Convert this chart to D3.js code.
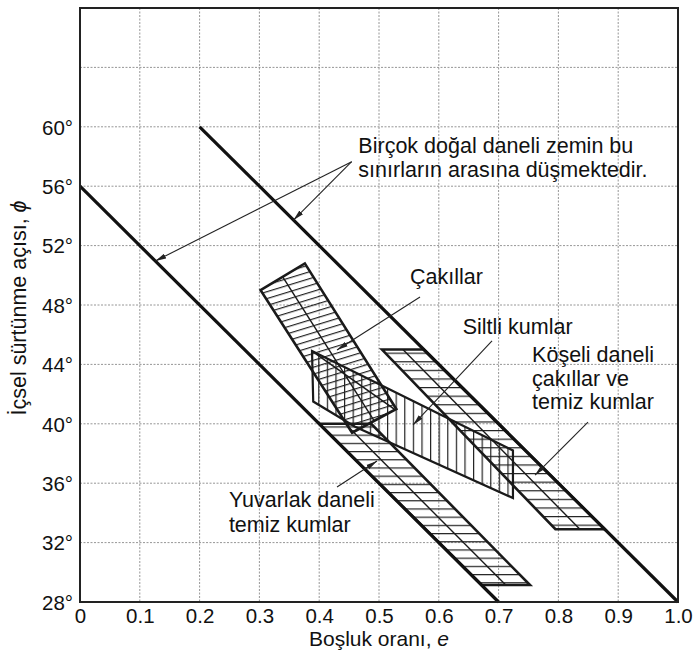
<!DOCTYPE html>
<html>
<head>
<meta charset="utf-8">
<script src="https://cdn.jsdelivr.net/npm/d3@7"></script>
<style>
  html, body { margin: 0; padding: 0; background: #fff; }
  svg { display: block; font-family: "Liberation Sans", Arial, Helvetica, sans-serif; }
</style>
</head>
<body>
<svg id="chart" width="695" height="658"></svg>
<script>
// ---- axis ticks and grid ----
const eTicks = [0, 0.1, 0.2, 0.3, 0.4, 0.5, 0.6, 0.7, 0.8, 0.9, 1.0];
const eTickLabels = ["0", "0.1", "0.2", "0.3", "0.4", "0.5", "0.6", "0.7", "0.8", "0.9", "1.0"];
const phiTicks = [28, 32, 36, 40, 44, 48, 52, 56, 60];
const phiTickLabels = ["28°", "32°", "36°", "40°", "44°", "48°", "52°", "56°", "60°"];
const eGrid = [0.1, 0.2, 0.3, 0.4, 0.5, 0.6, 0.7, 0.8, 0.9];
const phiGrid = [32, 36, 40, 44, 48, 52, 56, 60, 64];

// ---- limits of most natural granular soils, [e, phi] ----
const lowerLimit = [[0, 56], [0.7, 28]];
const upperLimit = [[0.2, 60], [1.0, 28]];

// ---- soil zones, [e, phi] ----
const roundedSands = [[0.400, 40.0], [0.487, 40.0], [0.7525, 29.14], [0.672, 29.14]];
const roundedSandsMid = [[0.4435, 40.0], [0.712, 29.14]];
const angularSands = [[0.505, 45.0], [0.575, 45.0], [0.8775, 32.9], [0.795, 32.9]];
const angularSandsMid = [[0.540, 45.0], [0.836, 32.9]];
const gravels = [[0.302, 49.0], [0.376, 50.8], [0.529, 41.0], [0.455, 39.4]];
const gravelsMid = [[0.339, 49.9], [0.492, 40.2]];
const siltySands = [[0.388, 44.9], [0.724, 38.2], [0.724, 35.0], [0.460, 39.8], [0.390, 41.5]];
const siltySandsInner = [[0.388, 44.9], [0.525, 41.0]];

// ---- callouts: text lines with anchor [e, phi] of each baseline ----
const noteLimits = ["Birçok doğal daneli zemin bu", "sınırların arasına düşmektedir."];
const noteLimitsAt = [[0.4655, 58.24], [0.4655, 56.62]];
const noteGravels = ["Çakıllar"];
const noteGravelsAt = [[0.552, 49.41]];
const noteSilty = ["Siltli kumlar"];
const noteSiltyAt = [[0.640, 46.05]];
const noteAngular = ["Köşeli daneli", "çakıllar ve", "temiz kumlar"];
const noteAngularAt = [[0.756, 44.16], [0.756, 42.55], [0.756, 41.00]];
const noteRounded = ["Yuvarlak daneli", "temiz kumlar"];
const noteRoundedAt = [[0.249, 34.40], [0.249, 32.71]];

// arrows: [from, to] in [e, phi]
const arrows = [
  [[0.4543, 57.65], [0.126, 50.96]],
  [[0.4543, 57.65], [0.357, 53.72]],
  [[0.5686, 48.54], [0.4298, 44.97]],
  [[0.689, 45.58], [0.557, 39.92]],
  [[0.8495, 40.12], [0.761, 36.55]],
  [[0.4298, 35.74], [0.4967, 37.49]]
];

// ---- layout ----
const plot = { left: 80, right: 678, top: 8, bottom: 602 };
const x = d3.scaleLinear().domain([0, 1.0]).range([plot.left, plot.right]);
const y = d3.scaleLinear().domain([28, 68]).range([plot.bottom, plot.top]);

const svg = d3.select("#chart");
const defs = svg.append("defs");

function hatch(id, w, h, x1, y1, x2, y2, rot) {
  const p = defs.append("pattern")
    .attr("id", id)
    .attr("patternUnits", "userSpaceOnUse")
    .attr("width", w).attr("height", h);
  if (rot) p.attr("patternTransform", `rotate(${rot})`);
  p.append("line")
    .attr("x1", x1).attr("y1", y1).attr("x2", x2).attr("y2", y2)
    .attr("stroke", "#222").attr("stroke-width", 1.2);
}
hatch("hRounded", 20, 8.2, 0, 0.6, 20, 0.6);
hatch("hAngular", 20, 8.6, 0, 0.6, 20, 0.6);
hatch("hGravel", 20, 6.6, 0, 0.6, 20, 0.6, -17);
hatch("vSilty", 8.6, 20, 0.6, 0, 0.6, 20);

defs.append("marker")
  .attr("id", "arrowHead")
  .attr("markerUnits", "userSpaceOnUse")
  .attr("viewBox", "0 -3 11 6")
  .attr("refX", 11).attr("refY", 0)
  .attr("markerWidth", 11).attr("markerHeight", 6)
  .attr("orient", "auto")
  .append("path")
  .attr("d", "M0,-2.6L11,0L0,2.6Z")
  .attr("fill", "#222");

// ---- grid ----
const grid = svg.append("g").attr("stroke", "#8a8a8a").attr("stroke-width", 0.9)
  .attr("stroke-dasharray", "2,1.5");
grid.selectAll(".gv").data(eGrid).join("line")
  .attr("x1", d => x(d)).attr("x2", d => x(d))
  .attr("y1", plot.top).attr("y2", plot.bottom);
grid.selectAll(".gh").data(phiGrid).join("line")
  .attr("x1", plot.left).attr("x2", plot.right)
  .attr("y1", d => y(d)).attr("y2", d => y(d));

const line = d3.line().x(d => x(d[0])).y(d => y(d[1]));
const closed = pts => line(pts) + "Z";

// ---- hatched zones ----
const zones = svg.append("g");
zones.append("path").attr("d", closed(siltySands)).attr("fill", "url(#vSilty)");
zones.append("path").attr("d", closed(gravels)).attr("fill", "url(#hGravel)");
zones.append("path").attr("d", closed(roundedSands)).attr("fill", "url(#hRounded)");
zones.append("path").attr("d", closed(angularSands)).attr("fill", "url(#hAngular)");

const outl = svg.append("g").attr("fill", "none").attr("stroke", "#1a1a1a")
  .attr("stroke-linejoin", "miter");
outl.append("path").attr("d", closed(siltySands)).attr("stroke-width", 2.2);
outl.append("path").attr("d", line(siltySandsInner)).attr("stroke-width", 1.6);
outl.append("path").attr("d", closed(gravels)).attr("stroke-width", 2.6);
outl.append("path").attr("d", line(gravelsMid)).attr("stroke-width", 1.4);
outl.append("path").attr("d", closed(roundedSands)).attr("stroke-width", 2.6);
outl.append("path").attr("d", line(roundedSandsMid)).attr("stroke-width", 1.4);
outl.append("path").attr("d", closed(angularSands)).attr("stroke-width", 2.6);
outl.append("path").attr("d", line(angularSandsMid)).attr("stroke-width", 1.4);

// ---- limit lines ----
const lim = svg.append("g").attr("fill", "none").attr("stroke", "#111").attr("stroke-width", 3.2);
lim.append("path").attr("d", line(lowerLimit));
lim.append("path").attr("d", line(upperLimit));

// ---- frame ----
svg.append("rect")
  .attr("x", plot.left).attr("y", plot.top)
  .attr("width", plot.right - plot.left).attr("height", plot.bottom - plot.top)
  .attr("fill", "none").attr("stroke", "#222").attr("stroke-width", 2);

// ---- axes ----
const xAxis = d3.axisBottom(x).tickValues(eTicks)
  .tickFormat((d, i) => eTickLabels[i]).tickSize(0).tickPadding(0);
const gx = svg.append("g").attr("transform", `translate(0,${plot.bottom})`).call(xAxis);
gx.select(".domain").remove();
gx.selectAll("text").attr("font-size", 20.5).attr("fill", "#111")
  .attr("font-family", "Liberation Sans, Arial, sans-serif")
  .attr("dy", null).attr("y", 20.5);

const yAxis = d3.axisLeft(y).tickValues(phiTicks)
  .tickFormat((d, i) => phiTickLabels[i]).tickSize(0).tickPadding(7);
const gy = svg.append("g").attr("transform", `translate(${plot.left},0)`).call(yAxis);
gy.select(".domain").remove();
gy.selectAll("text").attr("font-size", 20.5).attr("fill", "#111")
  .attr("font-family", "Liberation Sans, Arial, sans-serif")
  .attr("dy", "0.36em");

// axis titles
const xt = svg.append("text")
  .attr("x", (plot.left + plot.right) / 2).attr("y", 646)
  .attr("text-anchor", "middle").attr("font-size", 21).attr("fill", "#111");
xt.append("tspan").text("Boşluk oranı, ");
xt.append("tspan").attr("font-style", "italic").text("e");

const yt = svg.append("text")
  .attr("transform", "translate(26,308) rotate(-90)")
  .attr("text-anchor", "middle").attr("font-size", 21.5).attr("fill", "#111");
yt.append("tspan").text("İçsel sürtünme açısı, ");
yt.append("tspan").attr("font-style", "italic").text("ϕ");

// ---- callouts ----
const notes = svg.append("g").attr("font-size", 21.5).attr("fill", "#111");
function addNote(lines, at) {
  lines.forEach((t, i) => {
    notes.append("text").attr("x", x(at[i][0])).attr("y", y(at[i][1])).text(t);
  });
}
addNote(noteLimits, noteLimitsAt);
addNote(noteGravels, noteGravelsAt);
addNote(noteSilty, noteSiltyAt);
addNote(noteAngular, noteAngularAt);
addNote(noteRounded, noteRoundedAt);

svg.append("g").attr("stroke", "#222").attr("stroke-width", 1.1).attr("fill", "none")
  .selectAll("path").data(arrows).join("path")
  .attr("d", d => line(d))
  .attr("marker-end", "url(#arrowHead)");
</script>
</body>
</html>
